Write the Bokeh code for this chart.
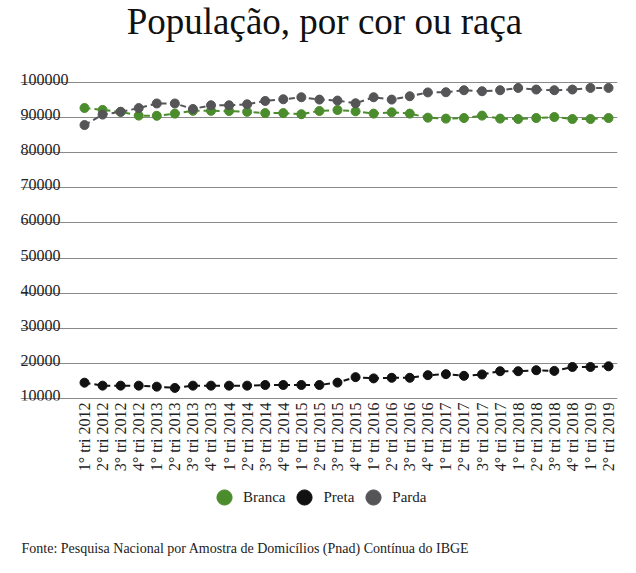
import math
from bokeh.plotting import figure
from bokeh.layouts import column
from bokeh.models import Range1d, FixedTicker, Legend, LegendItem, Label, ColumnDataSource
from bokeh.core.properties import value
from bokeh.embed import file_html
from bokeh.resources import INLINE

quarters = [
    "1° tri 2012", "2° tri 2012", "3° tri 2012", "4° tri 2012",
    "1° tri 2013", "2° tri 2013", "3° tri 2013", "4° tri 2013",
    "1° tri 2014", "2° tri 2014", "3° tri 2014", "4° tri 2014",
    "1° tri 2015", "2° tri 2015", "3° tri 2015", "4° tri 2015",
    "1° tri 2016", "2° tri 2016", "3° tri 2016", "4° tri 2016",
    "1° tri 2017", "2° tri 2017", "3° tri 2017", "4° tri 2017",
    "1° tri 2018", "2° tri 2018", "3° tri 2018", "4° tri 2018",
    "1° tri 2019", "2° tri 2019",
]

branca = [92650, 92100, 91550, 90480, 90430, 91050, 91850, 91850, 91800, 91550,
          91200, 91200, 90880, 91800, 92080, 91700, 91050, 91420, 91050, 89900,
          89630, 89800, 90480, 89630, 89520, 89800, 90080, 89520, 89520, 89800]

preta = [14580, 13740, 13740, 13740, 13460, 13090, 13740, 13740, 13740, 13740,
         13930, 13930, 13930, 13930, 14600, 16160, 15800, 15970, 15970, 16720,
         17000, 16530, 16920, 17840, 17840, 18120, 17930, 19050, 19050, 19240]

parda = [87800, 90770, 91570, 92620, 93930, 93930, 92370, 93420, 93420, 93700,
         94650, 95130, 95700, 95040, 94760, 93990, 95700, 95040, 95990, 97070,
         97130, 97700, 97410, 97700, 98350, 97890, 97700, 97890, 98350, 98350]

y_ticks = [10000, 20000, 30000, 40000, 50000, 60000, 70000, 80000, 90000, 100000]
y_tick_labels = ["10000", "20000", "30000", "40000", "50000",
                 "60000", "70000", "80000", "90000", "100000"]

series_names = ["Branca", "Preta", "Parda"]
series_colors = ["#4b8c2c", "#111111", "#555557"]

title_text = "População, por cor ou raça"
footer_text = "Fonte:  Pesquisa Nacional por Amostra de Domicílios (Pnad) Contínua do IBGE"

FONT = "Liberation Serif"
W = 636


def bare(height):
    f = figure(width=W, height=height, x_range=Range1d(0, 1), y_range=Range1d(0, 1),
               output_backend="svg", toolbar_location=None,
               x_axis_location=None, y_axis_location=None, min_border=0)
    f.grid.visible = False
    f.outline_line_color = None
    f.background_fill_color = "white"
    f.border_fill_color = "white"
    return f


# ---- title strip ----
p_title = bare(44)
p_title.add_layout(Label(x=304, y=23, x_units="screen", y_units="screen", text=title_text,
                         text_font=FONT, text_font_size="37px", text_color="#111111",
                         text_align="center", text_baseline="middle"), "center")

# ---- main chart ----
idx = list(range(len(quarters)))
x_start, x_end = -3.542, 29.496

p = figure(width=W, height=430,
           x_range=Range1d(x_start, x_end), y_range=Range1d(9518, 105578),
           output_backend="svg", toolbar_location=None,
           min_border_left=20, min_border_right=19,
           min_border_top=18, min_border_bottom=73)
p.outline_line_color = None
p.background_fill_color = "white"
p.border_fill_color = "white"

p.yaxis.visible = False
p.ygrid.ticker = FixedTicker(ticks=y_ticks)
p.ygrid.grid_line_color = "#8a8a8a"
p.ygrid.grid_line_width = 1
p.xgrid.grid_line_color = None

p.xaxis.ticker = FixedTicker(ticks=idx)
p.xaxis.major_label_overrides = {i: q for i, q in zip(idx, quarters)}
p.xaxis.major_label_orientation = math.pi / 2
p.xaxis.axis_line_color = None
p.xaxis.major_tick_line_color = None
p.xaxis.minor_tick_line_color = None
p.xaxis.major_tick_out = 0
p.xaxis.major_tick_in = 0
p.xaxis.minor_tick_out = 0
p.xaxis.major_label_standoff = 2
p.xaxis.major_label_text_font = FONT
p.xaxis.major_label_text_font_size = "16px"
p.xaxis.major_label_text_color = "#222222"

# y tick labels sitting above the grid lines
p.text(x=[x_start] * len(y_ticks), y=y_ticks, text=y_tick_labels,
       text_font=value(FONT), text_font_size="16px", text_color="#222222",
       text_align="left", text_baseline="alphabetic", y_offset=-3)

for name, vals, col in zip(series_names, [branca, preta, parda], series_colors):
    src = ColumnDataSource(dict(x=idx, y=vals))
    p.line("x", "y", source=src, line_color=col, line_width=2, line_dash="6 4")
    p.scatter("x", "y", source=src, size=9, fill_color=col, line_color=col)

# ---- legend + source strip ----
# (series plotted again here, out of this strip's view, only to feed the legend keys)
p_foot = bare(99)
items = []
for name, vals, col in zip(series_names, [branca, preta, parda], series_colors):
    r = p_foot.scatter("x", "y", source=ColumnDataSource(dict(x=idx, y=vals)),
                       size=9, fill_color=col, line_color=col)
    items.append(LegendItem(label=name, renderers=[r]))

legend = Legend(items=items, orientation="horizontal", location=(185, 57),
                glyph_width=38, glyph_height=38, label_standoff=0, spacing=0,
                padding=0, margin=0, border_line_color=None,
                background_fill_alpha=0,
                label_text_font=FONT, label_text_font_size="15px",
                label_text_color="#222222")
p_foot.add_layout(legend, "center")

p_foot.add_layout(Label(x=1, y=25, x_units="screen", y_units="screen", text=footer_text,
                        text_font=FONT, text_font_size="14px", text_color="#222222",
                        text_align="left", text_baseline="middle"), "center")

layout = column(p_title, p, p_foot, spacing=0)
open("out.html", "w").write(file_html(layout, INLINE))
